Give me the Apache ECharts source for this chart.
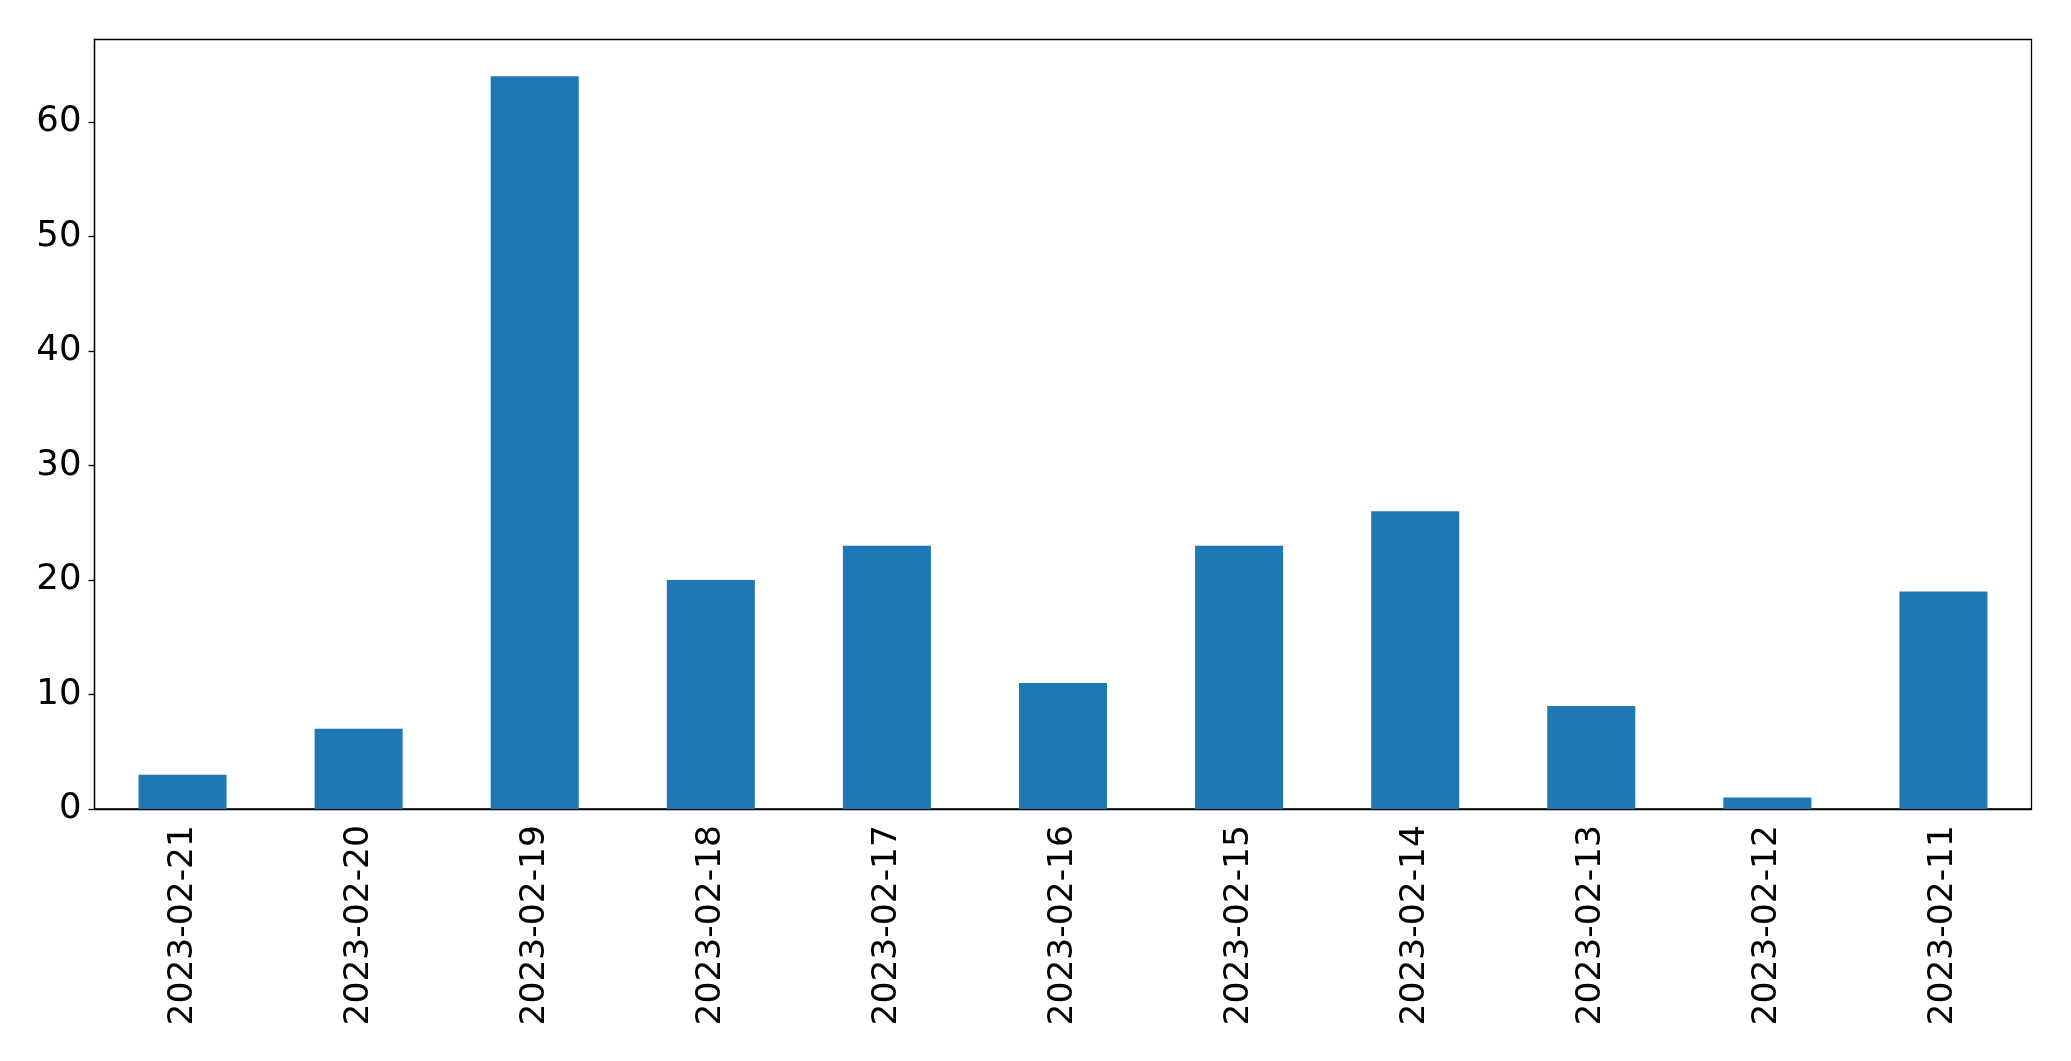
<!DOCTYPE html>
<html>
<head>
<meta charset="utf-8">
<script src="https://cdn.jsdelivr.net/npm/echarts@6/dist/echarts.min.js"></script>
<style>
  html, body { margin: 0; padding: 0; background: #fff; }
  #chart { width: 2071px; height: 1061px; }
</style>
</head>
<body>
<div id="chart"></div>
<script>
// data
const dates = ['2023-02-21', '2023-02-20', '2023-02-19', '2023-02-18', '2023-02-17', '2023-02-16',
  '2023-02-15', '2023-02-14', '2023-02-13', '2023-02-12', '2023-02-11'];
const counts = [3, 7, 64, 20, 23, 11, 23, 26, 9, 1, 19];
const yTicks = [0, 10, 20, 30, 40, 50, 60];

const chart = echarts.init(document.getElementById('chart'));

const font = 'DejaVu Sans';

const option = {
  animation: false,
  backgroundColor: '#fff',
  grid: {
    left: 94.5,
    right: 39.5,
    top: 39.5,
    bottom: 252,
    show: true,
    borderColor: '#000',
    borderWidth: 1.3,
    backgroundColor: 'transparent'
  },
  xAxis: {
    type: 'category',
    data: dates,
    boundaryGap: true,
    axisLine: { lineStyle: { color: '#000', width: 1.3 } },
    axisTick: { alignWithLabel: true, length: 6, lineStyle: { color: '#000', width: 1.3 } },
    axisLabel: {
      rotate: 90,
      interval: 0,
      margin: 16,
      color: '#000',
      fontFamily: font,
      fontSize: 34.5
    },
    splitLine: { show: false }
  },
  yAxis: {
    type: 'value',
    min: 0,
    max: 67.2,
    interval: 10,
    axisLine: { show: true, lineStyle: { color: '#000', width: 1.3 } },
    axisTick: { show: true, length: 6, customValues: yTicks, lineStyle: { color: '#000', width: 1.3 } },
    axisLabel: {
      customValues: yTicks,
      margin: 13,
      padding: [6, 0, 0, 0],
      color: '#000',
      fontFamily: font,
      fontSize: 35.5
    },
    splitLine: { show: false }
  },
  series: [
    {
      type: 'bar',
      data: counts,
      barWidth: '50%',
      itemStyle: { color: '#1f77b4' }
    }
  ]
};

chart.setOption(option);
</script>
</body>
</html>
